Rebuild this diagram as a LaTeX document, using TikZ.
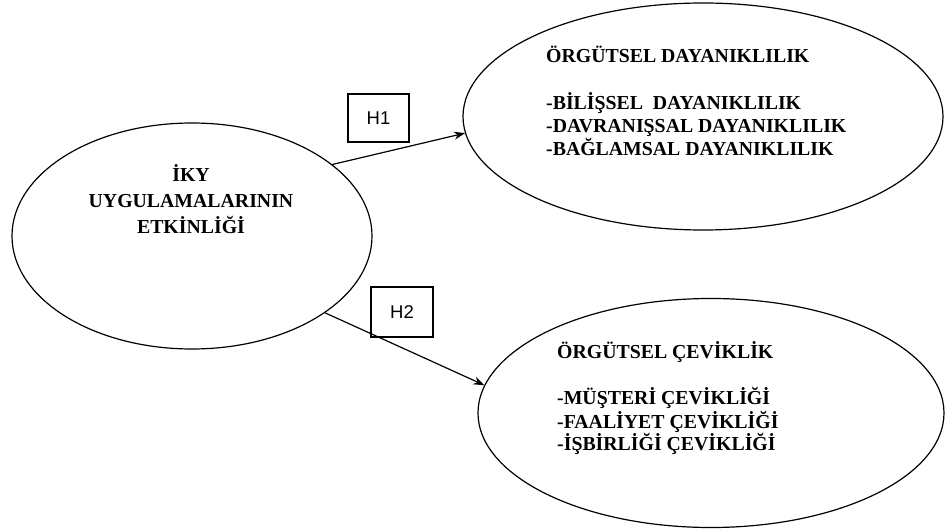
\documentclass[tikz,border=0pt]{standalone}
\usepackage{fontspec}
\setmainfont{Liberation Serif}
\newfontfamily\hfont{Liberation Sans}
\usetikzlibrary{arrows.meta,shapes.geometric}
\begin{document}
\begin{tikzpicture}[x=1pt,y=-1pt,
  ell/.style={draw, ellipse, line width=1.2pt, inner sep=0pt},
  lbl/.style={font=\bfseries\fontsize{19.8}{23}\selectfont, inner sep=0pt},
  hbox/.style={draw, line width=1.2pt, inner sep=0pt, font=\hfont\fontsize{18.5}{20}\selectfont},
  conn/.style={line width=1.2pt, -{Stealth[length=11pt,width=8pt]}}]
\useasboundingbox (0,0) rectangle (945,529);
% ellipses
\node[ell, minimum width=360pt, minimum height=226pt] (L) at (192,236) {};
\node[ell, minimum width=480pt, minimum height=227pt] (R1) at (703,116.5) {};
\node[ell, minimum width=466pt, minimum height=229pt] (R2) at (711,413) {};
% hypothesis boxes
\node[hbox, minimum width=61pt, minimum height=48pt] (H1) at (378.5,118) {H1};
\node[hbox, minimum width=62pt, minimum height=50pt] (H2) at (402,312) {H2};
% connectors
\draw[conn] (L.27.5) -- (R1.184);
\draw[conn] (L.-30.4) -- (R2.173.4);
% left text
\node[lbl, anchor=base] (l1) at (191,182) {İKY};
\node[lbl, anchor=base] (l2) at (191,208) {UYGULAMALARININ};
\node[lbl, anchor=base] (l3) at (191,234) {ETKİNLİĞİ};
% top right text
\node[lbl, anchor=base west] (a1) at (546,63) {ÖRGÜTSEL DAYANIKLILIK};
\node[lbl, anchor=base west] (a2) at (546,110) {-BİLİŞSEL\ \ DAYANIKLILIK};
\node[lbl, anchor=base west] (a3) at (546,133) {-DAVRANIŞSAL DAYANIKLILIK};
\node[lbl, anchor=base west] (a4) at (546,156) {-BAĞLAMSAL DAYANIKLILIK};
% bottom right text
\node[lbl, anchor=base west] (b1) at (557,358) {ÖRGÜTSEL ÇEVİKLİK};
\node[lbl, anchor=base west] (b2) at (557,404) {-MÜŞTERİ ÇEVİKLİĞİ};
\node[lbl, anchor=base west] (b3) at (557,428) {-FAALİYET ÇEVİKLİĞİ};
\node[lbl, anchor=base west] (b4) at (557,450) {-İŞBİRLİĞİ ÇEVİKLİĞİ};
\end{tikzpicture}
\end{document}
